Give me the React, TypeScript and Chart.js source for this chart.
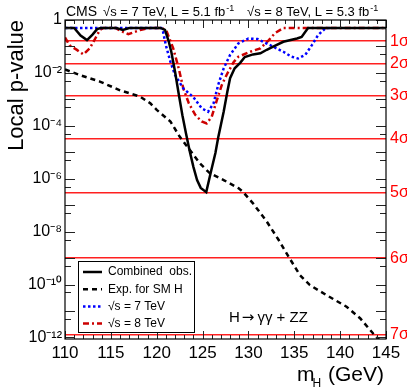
import React, { useEffect, useRef } from 'react';
import { Chart, registerables } from 'chart.js';

Chart.register(...registerables);

// ---------------- data ----------------
const obsMass = [110, 111.0, 111.7, 112.4, 113.0, 113.5, 113.9, 115.6, 116.3, 117.0, 120.4, 120.9, 121.3, 121.6, 122.0, 122.4, 122.8, 123.2, 123.6, 124.0, 124.4, 124.8, 125.4, 125.95, 126.4, 126.7, 127.0, 127.3, 127.7, 128.0, 128.5, 129.1, 129.6, 130.5, 131.3, 132.0, 132.7, 133.8, 135.3, 135.8, 136.5, 145];
const obsP = [0.5, 0.5, 0.26, 0.175, 0.28, 0.45, 0.5, 0.5, 0.42, 0.5, 0.5, 0.42, 0.16, 0.06, 0.011, 1.6e-3, 2.5e-4, 5e-5, 1.1e-5, 2.8e-6, 8.9e-7, 4.5e-7, 3.1e-7, 2.1e-6, 9.3e-6, 3.5e-5, 1.1e-4, 3.4e-4, 1.95e-3, 6.3e-3, 0.015, 0.024, 0.04, 0.05, 0.055, 0.075, 0.098, 0.15, 0.2, 0.23, 0.5, 0.5];

const expMass = [110, 111.6, 113.8, 116.0, 118.2, 119.3, 120.0, 121.5, 122.5, 123.6, 124.7, 125.8, 127.3, 128.9, 129.4, 130.5, 132.0, 133.3, 134.4, 135.6, 136.7, 138.5, 140.7, 142.2, 143.6, 144.6];
const expP = [0.0135, 8.3e-3, 4.7e-3, 2.2e-3, 1.26e-3, 7.1e-4, 4e-4, 1.45e-4, 3.9e-5, 1.23e-5, 3.8e-6, 1.6e-6, 8.9e-7, 4.4e-7, 3.2e-7, 1.17e-7, 2.4e-8, 4.8e-9, 1.1e-9, 2.3e-10, 9.5e-11, 4e-11, 1.45e-11, 5.2e-12, 1.4e-12, 6e-13];

const tev7Mass = [110, 120.5, 120.7, 121.0, 121.5, 122.0, 122.9, 124.0, 124.9, 125.6, 126.2, 126.7, 127.3, 128.0, 128.9, 130.0, 131.0, 131.6, 132.7, 133.8, 134.7, 135.4, 136.2, 136.9, 137.6, 138.4, 139.0];
const tev7P = [0.5, 0.5, 0.35, 0.11, 0.026, 8.3e-3, 2.6e-3, 1.2e-3, 4.6e-4, 3.4e-4, 7.1e-4, 3.5e-3, 0.0148, 0.048, 0.13, 0.2, 0.19, 0.15, 0.098, 0.063, 0.041, 0.035, 0.048, 0.11, 0.27, 0.49, 0.5];

const tev8Mass = [110, 110.5, 111.3, 112.0, 112.7, 113.3, 113.8, 114.2, 115.5, 116.0, 116.9, 118.2, 119.3, 120.6, 121.1, 121.8, 122.4, 122.9, 123.5, 124.2, 124.9, 125.45, 126.0, 126.5, 127.1, 127.7, 128.4, 128.9, 130.2, 131.3, 132.2, 132.9, 133.8, 145];
const tev8P = [0.22, 0.11, 0.074, 0.05, 0.085, 0.2, 0.42, 0.5, 0.5, 0.4, 0.29, 0.42, 0.5, 0.5, 0.36, 0.085, 0.0148, 2.6e-3, 7.1e-4, 2.6e-4, 1.45e-4, 1.23e-4, 2.2e-4, 8.1e-4, 3.5e-3, 9.5e-3, 0.026, 0.041, 0.063, 0.085, 0.17, 0.32, 0.5, 0.5];

const seriesLabels = ['Combined  obs.', 'Exp. for SM H', '√s = 7 TeV', '√s = 8 TeV'];

const sigmaP = [0.158655, 0.0227501, 0.0013499, 3.16712e-5, 2.86652e-7, 9.86588e-10, 1.27981e-12];
const sigmaLabels = ['1σ', '2σ', '3σ', '4σ', '5σ', '6σ', '7σ'];

const yTickValues = [1, 1e-2, 1e-4, 1e-6, 1e-8, 1e-10, 1e-12];
const yTickLabels = ['1', '10⁻²', '10⁻⁴', '10⁻⁶', '10⁻⁸', '10⁻¹⁰', '10⁻¹²'];

const X_MIN = 110;
const X_MAX = 145;
const Y_MIN = 8.7e-13;
const Y_MAX = 1;

const FONT = '"Liberation Sans", Arial, Helvetica, sans-serif';

const toPoints = (xs: number[], ys: number[]) => xs.map((x, i) => ({ x, y: ys[i] }));

const decorPlugin = {
  id: 'decor',
  afterDatasetsDraw(chart: any) {
    const { ctx, chartArea: a, scales } = chart;
    const xs = scales.x;
    const ys = scales.y;
    ctx.save();
    // inside tick marks
    ctx.strokeStyle = '#222';
    ctx.lineWidth = 1;
    ctx.beginPath();
    for (let m = Math.ceil(xs.min); m <= xs.max; m++) {
      const px = Math.round(xs.getPixelForValue(m)) + 0.5;
      const len = m % 5 === 0 ? 8 : 4;
      ctx.moveTo(px, a.bottom);
      ctx.lineTo(px, a.bottom - len);
      ctx.moveTo(px, a.top);
      ctx.lineTo(px, a.top + len);
    }
    for (let k = 0; k >= -13; k--) {
      const vals: [number, number][] = [[Math.pow(10, k), 10], [5 * Math.pow(10, k - 1), 6]];
      for (const [v, len] of vals) {
        if (v < ys.min || v > ys.max) continue;
        const py = Math.round(ys.getPixelForValue(v)) + 0.5;
        ctx.moveTo(a.left, py);
        ctx.lineTo(a.left + len, py);
        ctx.moveTo(a.right, py);
        ctx.lineTo(a.right - len, py);
      }
    }
    ctx.stroke();
    // frame
    ctx.strokeStyle = '#000';
    ctx.lineWidth = 1.2;
    ctx.strokeRect(a.left, a.top, a.right - a.left, a.bottom - a.top);

    // legend box
    const bx = a.left + 13;
    const by = a.bottom - 78;
    const bw = 116;
    const bh = 71;
    ctx.fillStyle = '#fff';
    ctx.fillRect(bx, by, bw, bh);
    ctx.strokeStyle = '#000';
    ctx.lineWidth = 1;
    ctx.strokeRect(bx + 0.5, by + 0.5, bw, bh);
    ctx.font = `12px ${FONT}`;
    ctx.textBaseline = 'middle';
    ctx.textAlign = 'left';
    chart.data.datasets.forEach((ds: any, i: number) => {
      const ry = by + 11 + i * 17.2;
      ctx.save();
      ctx.strokeStyle = ds.borderColor;
      ctx.lineWidth = ds.borderWidth;
      ctx.setLineDash(ds.borderDash || []);
      ctx.beginPath();
      ctx.moveTo(bx + 5, ry);
      ctx.lineTo(bx + 24, ry);
      ctx.stroke();
      ctx.restore();
      ctx.fillStyle = '#000';
      ctx.fillText(ds.label, bx + 30, ry);
    });

    // process label
    ctx.textBaseline = 'alphabetic';
    ctx.fillStyle = '#000';
    const lx = a.left + 164;
    const ly = a.bottom - 17.5;
    ctx.font = `15px ${FONT}`;
    ctx.fillText('H', lx, ly);
    let cx = lx + ctx.measureText('H').width + 2;
    ctx.font = `15px "DejaVu Sans", ${FONT}`;
    ctx.fillText('→', cx, ly);
    cx += ctx.measureText('→').width + 3;
    ctx.font = `15px ${FONT}`;
    ctx.fillText('γγ + ZZ', cx, ly);
    ctx.restore();
  },
  afterDraw(chart: any) {
    const { ctx, chartArea: a } = chart;
    ctx.save();
    ctx.fillStyle = '#000';
    ctx.textBaseline = 'alphabetic';
    ctx.textAlign = 'left';
    // top title
    const base = a.top - 4;
    ctx.font = `14px ${FONT}`;
    ctx.fillText('CMS', a.left + 1, base);
    const seg = (txt: string, sup: string, x: number) => {
      ctx.font = `13px ${FONT}`;
      ctx.fillText(txt, x, base);
      const w = ctx.measureText(txt).width;
      ctx.font = `9px ${FONT}`;
      ctx.fillText(sup, x + w + 1, base - 5);
    };
    seg('√s = 7 TeV, L = 5.1 fb', '-1', a.left + 38);
    seg('√s = 8 TeV, L = 5.3 fb', '-1', a.left + 182);

    // x axis title with subscript
    const xb = a.bottom + 42;
    ctx.font = `21px ${FONT}`;
    ctx.fillText('m', a.right - 89, xb);
    ctx.font = `12px ${FONT}`;
    ctx.fillText('H', a.right - 73.5, xb + 6);
    ctx.font = `21px ${FONT}`;
    ctx.fillText('(GeV)', a.right - 58, xb);
    ctx.restore();
  },
};

export default function App() {
  const canvasRef = useRef<HTMLCanvasElement | null>(null);

  useEffect(() => {
    if (!canvasRef.current) return;
    Chart.defaults.font.family = FONT;
    Chart.defaults.color = '#000';

    const chart = new Chart(canvasRef.current, {
      type: 'line',
      data: {
        datasets: [
          {
            label: seriesLabels[0],
            data: toPoints(obsMass, obsP),
            borderColor: '#000000',
            borderWidth: 2.5,
            pointRadius: 0,
            tension: 0,
            fill: false,
          },
          {
            label: seriesLabels[1],
            data: toPoints(expMass, expP),
            borderColor: '#000000',
            borderWidth: 2.5,
            borderDash: [5, 4],
            pointRadius: 0,
            tension: 0,
            fill: false,
          },
          {
            label: seriesLabels[2],
            data: toPoints(tev7Mass, tev7P),
            borderColor: '#0000ff',
            borderWidth: 2.5,
            borderDash: [2.5, 2.5],
            pointRadius: 0,
            tension: 0,
            fill: false,
          },
          {
            label: seriesLabels[3],
            data: toPoints(tev8Mass, tev8P),
            borderColor: '#cc0000',
            borderWidth: 2.5,
            borderDash: [6, 3, 2, 3],
            pointRadius: 0,
            tension: 0,
            fill: false,
          },
        ],
      },
      options: {
        responsive: false,
        animation: false,
        devicePixelRatio: 1,
        layout: { padding: { top: 20, left: 0, right: 0, bottom: 0 } },
        plugins: {
          legend: { display: false },
          tooltip: { enabled: false },
          title: { display: false },
        },
        scales: {
          x: {
            type: 'linear',
            min: X_MIN,
            max: X_MAX,
            grid: { display: false, drawTicks: false },
            border: { display: false },
            ticks: {
              stepSize: 5,
              padding: 4,
              font: { size: 17 },
              color: '#000',
              maxRotation: 0,
              autoSkip: false,
            },
            afterFit: (s: any) => {
              s.height = 52;
            },
          },
          y: {
            type: 'logarithmic',
            position: 'left',
            min: Y_MIN,
            max: Y_MAX,
            grid: { display: false, drawTicks: false },
            border: { display: false },
            afterBuildTicks: (s: any) => {
              s.ticks = yTickValues.map((v) => ({ value: v }));
            },
            ticks: {
              autoSkip: false,
              padding: 3,
              font: { size: 16 },
              color: '#000',
              callback: (_v: any, i: number) => yTickLabels[i],
            },
            title: {
              display: true,
              text: 'Local p-value',
              align: 'end',
              font: { size: 22 },
              color: '#000',
              padding: { top: 4, bottom: 0 },
            },
            afterFit: (s: any) => {
              s.width = 65;
            },
          },
          sig: {
            type: 'logarithmic',
            position: 'right',
            min: Y_MIN,
            max: Y_MAX,
            grid: { display: true, drawTicks: false, color: '#ff2020', lineWidth: 1.6 },
            border: { display: false },
            afterBuildTicks: (s: any) => {
              s.ticks = sigmaP.map((v) => ({ value: v }));
            },
            ticks: {
              autoSkip: false,
              padding: 4,
              font: { size: 16 },
              color: '#ff0000',
              callback: (_v: any, i: number) => sigmaLabels[i],
            },
            afterFit: (s: any) => {
              s.width = 21;
            },
          },
        },
      },
      plugins: [decorPlugin],
    } as any);

    return () => chart.destroy();
  }, []);

  return (
    <div style={{ position: 'fixed', left: 0, top: 0, width: 407, height: 391, background: '#fff' }}>
      <canvas ref={canvasRef} width={407} height={391} style={{ display: 'block' }} />
    </div>
  );
}
